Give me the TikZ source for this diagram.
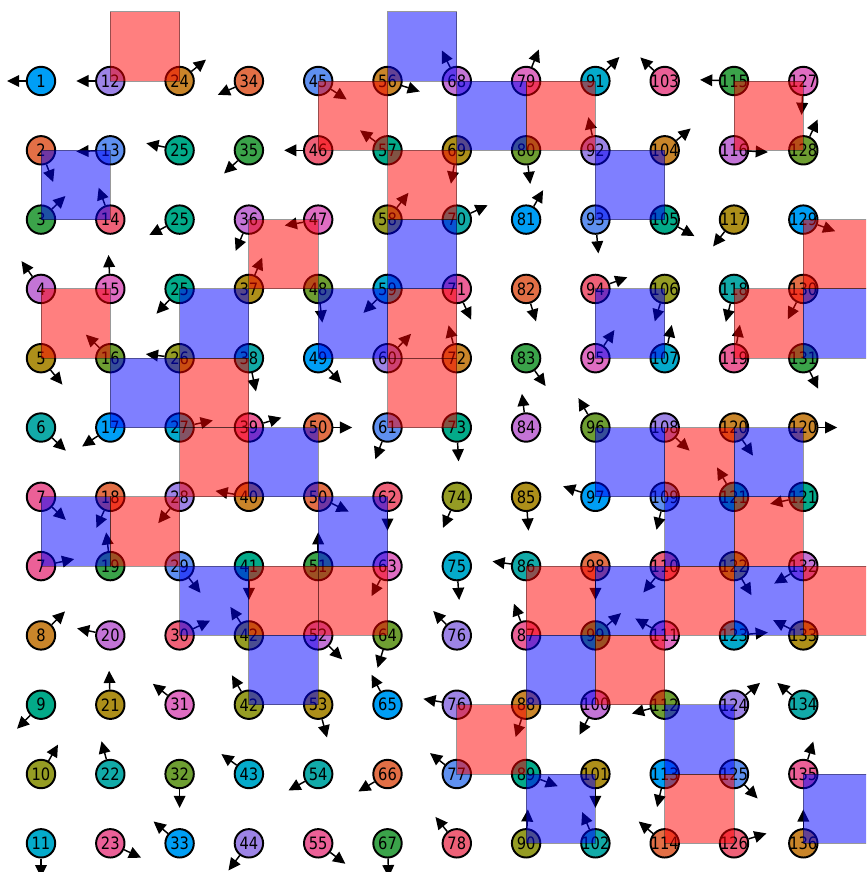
\documentclass[tikz,border=0pt]{standalone}
\usepackage{fontspec}
\setmainfont{DejaVu Sans}[FakeStretch=0.86]
\usetikzlibrary{arrows.meta,calc}
\definecolor{p0}{HTML}{6E9E32}
\definecolor{p1}{HTML}{009EF5}
\definecolor{p2}{HTML}{E26F46}
\definecolor{p3}{HTML}{3BA34A}
\definecolor{p4}{HTML}{C374D6}
\definecolor{p5}{HTML}{AD8F1A}
\definecolor{p6}{HTML}{12AAA8}
\definecolor{p7}{HTML}{EB6097}
\definecolor{p8}{HTML}{C9852A}
\definecolor{p9}{HTML}{03AA89}
\definecolor{p10}{HTML}{959C24}
\definecolor{p11}{HTML}{05AACB}
\definecolor{p12}{HTML}{9D84E6}
\definecolor{p13}{HTML}{5F90F0}
\definecolor{p14}{HTML}{EE6178}
\definecolor{p15}{HTML}{DF6DC2}
\begin{document}
\begin{tikzpicture}[x=1cm,y=1cm,
  dot/.style={circle,draw=black,line width=0.8pt,minimum size=0.41cm,inner sep=0pt,
    font=\fontsize{7pt}{7pt}\selectfont},
  arr/.style={line width=0.6pt,-{Triangle[length=5pt,width=4.8pt]}},
  rsq/.style={fill=red,fill opacity=0.5,draw=black,draw opacity=0.4,line width=0.4pt},
  bsq/.style={fill=blue,fill opacity=0.5,draw=black,draw opacity=0.4,line width=0.4pt}]
\clip (-0.5916,1.1688) rectangle (11.905,-11.414);
\foreach \c/\r/\l/\a in {
0/0/1/180, 1/0/12/180, 2/0/24/39, 3/0/34/204, 4/0/45/327, 5/0/56/342, 6/0/68/116, 7/0/79/68, 8/0/91/45, 9/0/103/136, 10/0/115/178, 11/0/127/267,
0/1/2/291, 1/1/13/182, 2/1/25/168, 3/1/35/223, 4/1/46/180, 5/1/57/144, 6/1/69/260, 7/1/80/277, 8/1/92/102, 9/1/104/40, 10/1/116/357, 11/1/128/65,
0/2/3/44, 1/2/14/110, 2/2/25/207, 3/2/36/247, 4/2/47/190, 5/2/58/52, 6/2/70/25, 7/2/81/60, 8/2/93/275, 9/2/105/331, 10/2/117/232, 11/2/129/340,
0/3/4/125, 1/3/15/93, 2/3/25/227, 3/3/37/67, 4/3/48/277, 5/3/59/225, 6/3/71/295, 7/3/82/287, 8/3/94/20, 9/3/106/253, 10/3/118/256, 11/3/130/243,
0/4/5/309, 1/4/16/136, 2/4/26/173, 3/4/38/282, 4/4/49/313, 5/4/60/46, 6/4/72/104, 7/4/83/305, 8/4/95/56, 9/4/107/78, 10/4/119/80, 11/4/131/296,
0/5/6/317, 1/5/17/214, 2/5/27/12, 3/5/39/17, 4/5/50/0, 5/5/61/249, 6/5/73/273, 7/5/84/97, 8/5/96/120, 9/5/108/317, 10/5/120/304, 11/5/120/0,
0/6/7/317, 1/6/18/246, 2/6/28/231, 3/6/40/170, 4/6/50/334, 5/6/62/270, 6/6/74/246, 7/6/85/274, 8/6/97/162, 9/6/109/256, 10/6/121/120, 11/6/121/192,
0/7/7/12, 1/7/19/97, 2/7/29/308, 3/7/41/270, 4/7/51/90, 5/7/63/242, 6/7/75/274, 7/7/86/172, 8/7/98/270, 9/7/110/231, 10/7/122/301, 11/7/132/211,
0/8/8/45, 1/8/20/168, 2/8/30/26, 3/8/42/123, 4/8/52/315, 5/8/64/253, 6/8/76/134, 7/8/87/111, 8/8/99/41, 9/8/111/150, 10/8/123/5, 11/8/133/153,
0/9/9/225, 1/9/21/92, 2/9/31/142, 3/9/42/120, 4/9/53/285, 5/9/65/118, 6/9/76/170, 7/9/88/252, 8/9/100/242, 9/9/112/195, 10/9/124/40, 11/9/134/140,
0/10/10/60, 1/10/22/105, 2/10/32/270, 3/10/43/144, 4/10/54/209, 5/10/66/211, 6/10/77/142, 7/10/89/339, 8/10/101/270, 9/10/113/257, 10/10/125/314, 11/10/135/73,
0/11/11/270, 1/11/23/335, 2/11/33/140, 3/11/44/233, 4/11/55/323, 5/11/67/272, 6/11/78/129, 7/11/90/87, 8/11/102/113, 9/11/114/140, 10/11/126/17, 11/11/136/90}{
  \pgfmathtruncatemacro{\m}{mod(\l,16)}
  \node[dot,fill=p\m] (n-\c-\r) at (\c,-\r) {\makebox[0pt]{\l}};
  \coordinate (t-\c-\r) at ($(\c,-\r)+(\a:0.49)$);
  \draw[arr] (n-\c-\r) -- (t-\c-\r);
}
\foreach \c/\y in {1/1, 4/0, 7/0, 10/0, 5/-1, 3/-2, 11/-2, 0/-3, 5/-3, 10/-3, 2/-4, 5/-4, 2/-5, 9/-5, 1/-6, 10/-6, 3/-7, 4/-7, 7/-7, 9/-7, 11/-7, 8/-8, 6/-9, 9/-10}
  \draw[rsq] (\c,\y) rectangle ++(1,-1);
\foreach \c/\y in {0/-1, 5/1, 6/0, 8/-1, 5/-2, 2/-3, 4/-3, 8/-3, 11/-3, 1/-4, 3/-5, 8/-5, 10/-5, 0/-6, 4/-6, 9/-6, 2/-7, 8/-7, 10/-7, 3/-8, 7/-8, 9/-9, 7/-10, 11/-10}
  \draw[bsq] (\c,\y) rectangle ++(1,-1);
\end{tikzpicture}
\end{document}
